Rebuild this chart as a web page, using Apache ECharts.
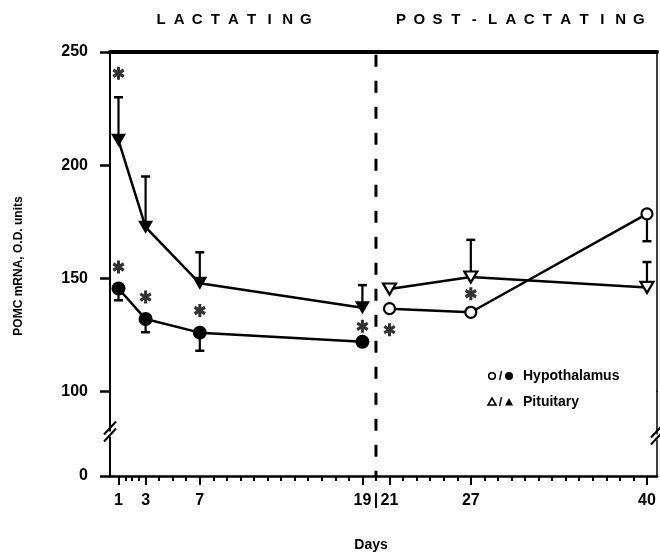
<!DOCTYPE html>
<html><head><meta charset="utf-8">
<script src="https://cdn.jsdelivr.net/npm/echarts@6/dist/echarts.min.js"></script>
<style>html,body{margin:0;padding:0;background:#fff}#c{width:660px;height:552px}</style>
</head><body><div id="c"></div>
<script>
// ---- data ----
const lactDays = [1, 3, 7, 19];
const postDays = [21, 27, 40];
const hypoLact = [145.5, 132, 126, 122];
const hypoLactErr = [140.3, 126.2, 118, null];   // lower end of error bar
const hypoPost = [136.6, 135, 178.5];
const hypoPostErr = [null, null, 166.4];
const pitLact = [211, 172.6, 147.8, 137];
const pitLactErr = [230, 195, 161.5, 147];      // upper end of error bar
const pitPost = [145.3, 150.6, 146];
const pitPostErr = [null, 167, 157.2];
const starDays = [1, 1, 3, 7, 19, 21, 27];
const starValues = [240.6, 155, 141.7, 135.8, 128.8, 127.3, 143.2];
const yTickValues = [100, 150, 200, 250];
const yLowTickValues = [0];
const xLabelDays = [1, 3, 7, 19, 20, 21, 27, 40];
const xLabelText = ['1', '3', '7', '19', '|', '21', '27', '40'];
const headerLeft = 'LACTATING';
const headerRight = 'POST-LACTATING';
const yTitle = 'POMC mRNA, O.D. units';
const xTitle = 'Days';
const legendNames = ['Hypothalamus', 'Pituitary'];

// ---- chart ----
const FONT = '"Liberation Sans", Arial, sans-serif';
const X_MIN = 0.373, X_MAX = 40.74;
const pair = (xs, ys) => xs.map((x, i) => [x, ys[i]]);
const errData = (xs, ys, es) => xs.map((x, i) => [x, ys[i], es[i]]).filter(d => d[2] != null);
const majorTicks = xLabelDays.filter(d => d !== 20);
const minorTicks = [1.5, 2, 2.5];
for (let d = 4; d <= 39; d++) if (!majorTicks.includes(d)) minorTicks.push(d);

const ASTER = 'path://M7.5 0H12.5V20H7.5Z M2.59 2.835L19.91 12.835L17.41 17.165L0.09 7.165Z M17.41 2.835L19.91 7.165L2.59 17.165L0.09 12.835Z';

const chart = echarts.init(document.getElementById('c'));
const axisLineStyle = { color: '#000', width: 2 };
const tickLabel = { color: '#000', fontFamily: FONT, fontWeight: 'bold', fontSize: 16 };

function errRender(params, api) {
  const x = api.value(0), y = api.value(1), e = api.value(2);
  const p0 = api.coord([x, y]);
  const p1 = api.coord([x, e]);
  return {
    type: 'group',
    children: [
      { type: 'line', shape: { x1: p0[0], y1: p0[1], x2: p1[0], y2: p1[1] }, style: { stroke: '#000', lineWidth: 2.2 } },
      { type: 'line', shape: { x1: p1[0] - 4.5, y1: p1[1], x2: p1[0] + 4.5, y2: p1[1] }, style: { stroke: '#000', lineWidth: 2.5 } }
    ]
  };
}

const option = {
  animation: false,
  backgroundColor: '#fff',
  grid: [
    { left: 110, right: 3, top: 52, height: 339.5 },
    { left: 110, right: 3, top: 391.5, height: 84.5 }
  ],
  xAxis: [
    { type: 'value', gridIndex: 1, position: 'bottom', min: X_MIN, max: X_MAX,
      axisLine: { show: true, lineStyle: { color: '#000', width: 2.5 } },
      axisTick: { show: true, customValues: majorTicks, length: 9, lineStyle: { color: '#000', width: 2 } },
      axisLabel: { show: true, customValues: xLabelDays, margin: 17, ...tickLabel,
        formatter: v => { const i = xLabelDays.findIndex(d => Math.abs(d - v) < 1e-6); return i >= 0 ? xLabelText[i] : ''; } },
      splitLine: { show: false } },
    { type: 'value', gridIndex: 1, position: 'bottom', min: X_MIN, max: X_MAX,
      axisLine: { show: false },
      axisTick: { show: true, customValues: minorTicks, length: 5, lineStyle: { color: '#000', width: 2 } },
      axisLabel: { show: false }, splitLine: { show: false } },
    { type: 'value', gridIndex: 0, position: 'top', min: X_MIN, max: X_MAX,
      axisLine: { show: true, lineStyle: { color: '#000', width: 4 } },
      axisTick: { show: false }, axisLabel: { show: false }, splitLine: { show: false } }
  ],
  yAxis: [
    { type: 'value', gridIndex: 0, position: 'left', min: 100, max: 250, interval: 50,
      axisLine: { show: true, lineStyle: axisLineStyle },
      axisTick: { show: true, customValues: yTickValues, length: 10, lineStyle: { color: '#000', width: 2.5 } },
      axisLabel: { show: true, customValues: yTickValues, margin: 22, ...tickLabel },
      splitLine: { show: false } },
    { type: 'value', gridIndex: 0, position: 'right', min: 100, max: 250,
      axisLine: { show: true, lineStyle: { color: '#000', width: 1.5 } },
      axisTick: { show: false }, axisLabel: { show: false }, splitLine: { show: false } },
    { type: 'value', gridIndex: 1, position: 'left', min: 0, max: 100,
      axisLine: { show: true, lineStyle: axisLineStyle },
      axisTick: { show: true, customValues: yLowTickValues, length: 10, lineStyle: { color: '#000', width: 2.5 } },
      axisLabel: { show: true, customValues: yLowTickValues, margin: 22, ...tickLabel },
      splitLine: { show: false } },
    { type: 'value', gridIndex: 1, position: 'right', min: 0, max: 100,
      axisLine: { show: true, lineStyle: { color: '#000', width: 1.5 } },
      axisTick: { show: false }, axisLabel: { show: false }, splitLine: { show: false } }
  ],
  series: [
    { name: 'err', type: 'custom', xAxisIndex: 2, yAxisIndex: 0, z: 2, renderItem: errRender,
      data: [].concat(errData(lactDays, hypoLact, hypoLactErr), errData(postDays, hypoPost, hypoPostErr),
                      errData(lactDays, pitLact, pitLactErr), errData(postDays, pitPost, pitPostErr)) },
    { name: 'Pituitary lactating', type: 'line', xAxisIndex: 2, yAxisIndex: 0, z: 3,
      data: pair(lactDays, pitLact), symbol: 'triangle', symbolRotate: 180, symbolSize: [15, 13], showAllSymbol: true,
      itemStyle: { color: '#000' }, lineStyle: { color: '#000', width: 2.5 } },
    { name: 'Pituitary post', type: 'line', xAxisIndex: 2, yAxisIndex: 0, z: 3,
      data: pair(postDays, pitPost), symbol: 'triangle', symbolRotate: 180, symbolSize: [13, 11], showAllSymbol: true,
      itemStyle: { color: '#fff', borderColor: '#000', borderWidth: 2.2 }, lineStyle: { color: '#000', width: 2.5 } },
    { name: 'Hypothalamus lactating', type: 'line', xAxisIndex: 2, yAxisIndex: 0, z: 3,
      data: pair(lactDays, hypoLact), symbol: 'circle', symbolSize: 14, showAllSymbol: true,
      itemStyle: { color: '#000' }, lineStyle: { color: '#000', width: 2.5 } },
    { name: 'Hypothalamus post', type: 'line', xAxisIndex: 2, yAxisIndex: 0, z: 3,
      data: pair(postDays, hypoPost), symbol: 'circle', symbolSize: 11, showAllSymbol: true,
      itemStyle: { color: '#fff', borderColor: '#000', borderWidth: 2.2 }, lineStyle: { color: '#000', width: 2.5 } },
    { name: 'stars', type: 'scatter', xAxisIndex: 2, yAxisIndex: 0, z: 4,
      data: pair(starDays, starValues), symbol: ASTER, symbolSize: [12, 13], itemStyle: { color: '#000' } }
  ]
};
chart.setOption(option);

// ---- decorations ----
const xDash = chart.convertToPixel({ xAxisIndex: 0 }, 20);
const yTop = chart.convertToPixel({ yAxisIndex: 0 }, 250);
const yBot = chart.convertToPixel({ yAxisIndex: 2 }, 0);
const xLeft = chart.convertToPixel({ xAxisIndex: 0 }, X_MIN);
const xRight = chart.convertToPixel({ xAxisIndex: 0 }, X_MAX);

const g = [];
function spaced(str, x0, pitch, y) {
  str.split('').forEach((ch, i) => g.push({ type: 'text', z: 100, x: x0 + i * pitch, y: y,
    style: { text: ch, fill: '#000', font: 'bold 15px ' + FONT, textAlign: 'center', textVerticalAlign: 'middle' } }));
}
spaced(headerLeft, 161, 18.1, 20);
spaced(headerRight, 401, 18.3, 20);

g.push({ type: 'line', z: 50, shape: { x1: xDash, y1: yTop + 2.7, x2: xDash, y2: yBot },
  style: { stroke: '#000', lineWidth: 3, lineDash: [12, 14] } });

function brk(x, y) {
  g.push({ type: 'rect', z: 100, shape: { x: x - 4, y: y - 2.5, width: 8, height: 5 }, style: { fill: '#fff' } });
  g.push({ type: 'line', z: 101, shape: { x1: x - 6, y1: y + 0.5, x2: x + 6, y2: y - 12.5 }, style: { stroke: '#000', lineWidth: 2 } });
  g.push({ type: 'line', z: 101, shape: { x1: x - 6, y1: y + 7.5, x2: x + 6, y2: y - 5.5 }, style: { stroke: '#000', lineWidth: 2 } });
}
brk(xLeft, 434);
brk(xRight, 437);

g.push({ type: 'text', z: 100, x: 19, y: 266, rotation: Math.PI / 2,
  style: { text: yTitle, fill: '#000', font: 'bold 12px ' + FONT, textAlign: 'center', textVerticalAlign: 'middle' } });
g.push({ type: 'text', z: 100, x: 371, y: 545,
  style: { text: xTitle, fill: '#000', font: 'bold 14px ' + FONT, textAlign: 'center', textVerticalAlign: 'middle' } });

// legend
const lx = 492, ly1 = 376, ly2 = 402;
g.push({ type: 'circle', z: 100, shape: { cx: lx, cy: ly1, r: 3.3 }, style: { fill: '#fff', stroke: '#000', lineWidth: 1.6 } });
g.push({ type: 'text', z: 100, x: 500.5, y: ly1, style: { text: '/', fill: '#000', font: 'bold 13px ' + FONT, textAlign: 'center', textVerticalAlign: 'middle' } });
g.push({ type: 'circle', z: 100, shape: { cx: 509, cy: ly1, r: 4 }, style: { fill: '#000' } });
g.push({ type: 'text', z: 100, x: 523, y: ly1, style: { text: legendNames[0], fill: '#000', font: 'bold 14px ' + FONT, textAlign: 'left', textVerticalAlign: 'middle' } });
g.push({ type: 'polygon', z: 100, shape: { points: [[lx - 4, ly2 + 3], [lx + 4, ly2 + 3], [lx, ly2 - 4]] }, style: { fill: '#fff', stroke: '#000', lineWidth: 1.6 } });
g.push({ type: 'text', z: 100, x: 500.5, y: ly2, style: { text: '/', fill: '#000', font: 'bold 13px ' + FONT, textAlign: 'center', textVerticalAlign: 'middle' } });
g.push({ type: 'polygon', z: 100, shape: { points: [[505, ly2 + 3.5], [513, ly2 + 3.5], [509, ly2 - 4]] }, style: { fill: '#000' } });
g.push({ type: 'text', z: 100, x: 523, y: ly2, style: { text: legendNames[1], fill: '#000', font: 'bold 14px ' + FONT, textAlign: 'left', textVerticalAlign: 'middle' } });

chart.setOption({ graphic: { elements: g } });
</script>
</body></html>
